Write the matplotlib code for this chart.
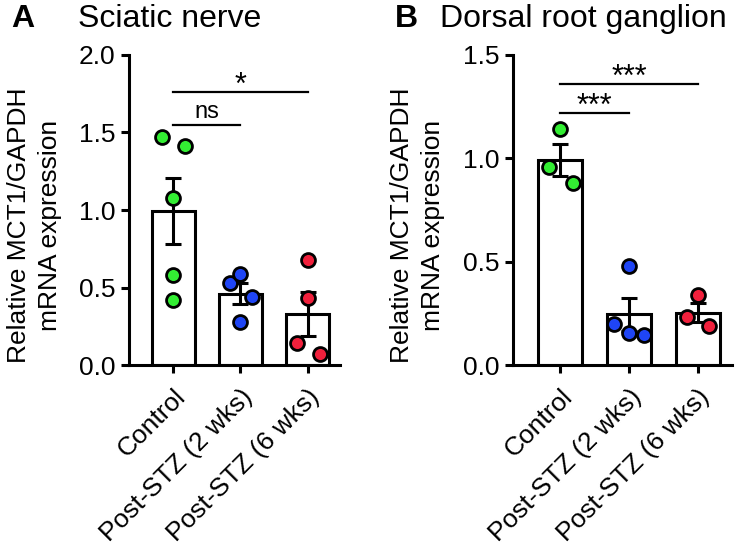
import matplotlib
matplotlib.use("Agg")
import matplotlib.pyplot as plt
import matplotlib.transforms as mtransforms
import numpy as np

plt.rcParams['font.family'] = ['Liberation Sans', 'DejaVu Sans']

groups = ['Control', 'Post-STZ (2 wks)', 'Post-STZ (6 wks)']
colors = ['#33ee33', '#1f45f5', '#f0203c']

# Sciatic nerve, individual points
sn_vals = [[1.47, 1.41, 1.08, 0.58, 0.42],
           [0.53, 0.59, 0.44, 0.28],
           [0.68, 0.43, 0.14, 0.07]]
sn_jit = [[-0.17, 0.17, 0.0, 0.0, 0.0],
          [-0.16, 0.0, 0.18, 0.0],
          [0.0, 0.0, -0.15, 0.18]]

# Dorsal root ganglion, individual points
drg_vals = [[1.14, 0.96, 0.88],
            [0.48, 0.20, 0.155, 0.145],
            [0.34, 0.23, 0.19]]
drg_jit = [[0.0, -0.16, 0.18],
           [0.0, -0.22, 0.0, 0.22],
           [0.0, -0.16, 0.16]]

# significance bars: (start group, end group, y, label)
sn_sig = [(0, 1, 1.55, 'ns'), (0, 2, 1.76, '*')]
drg_sig = [(0, 1, 1.22, '***'), (0, 2, 1.36, '***')]

LW = 2.2

def panel(fig, ax, vals, jit, sig, ymax, yticks, xlim):
    x = np.arange(len(groups))
    means = [np.mean(v) for v in vals]
    sems = [np.std(v, ddof=1) / np.sqrt(len(v)) for v in vals]
    ax.bar(x, means, width=0.64, color='white', edgecolor='black', linewidth=LW, zorder=1)
    ax.errorbar(x, means, yerr=sems, fmt='none', ecolor='black', elinewidth=LW,
                capsize=6, capthick=LW, zorder=2)
    for i, v in enumerate(vals):
        ax.plot(i + np.array(jit[i]), v, 'o', ms=10, mfc=colors[i], mec='black',
                mew=2, zorder=3, clip_on=False)
    for a, b, y, lab in sig:
        ax.plot([a, b], [y, y], color='black', lw=1.6, zorder=3)
        if lab.startswith('*'):
            ax.annotate(lab, xy=((a + b) / 2, y), xytext=(0, -6.4), textcoords='offset points',
                        ha='center', va='bottom', fontsize=22)
        else:
            ax.annotate(lab, xy=((a + b) / 2, y), xytext=(0, 1.2), textcoords='offset points',
                        ha='center', va='bottom', fontsize=17)
    ax.set_ylim(0, ymax)
    ax.set_xlim(*xlim)
    ax.set_yticks(yticks)
    ax.set_yticklabels(['%.1f' % t for t in yticks])
    ax.set_xticks(x)
    ax.set_xticklabels(groups, rotation=45, ha='right', rotation_mode='anchor')
    shift = mtransforms.ScaledTranslation(-4 / 100, 0, fig.dpi_scale_trans)
    for lbl in ax.get_xticklabels():
        lbl.set_transform(lbl.get_transform() + shift)
    for s in ['top', 'right']:
        ax.spines[s].set_visible(False)
    for s in ['left', 'bottom']:
        ax.spines[s].set_linewidth(LW)
    ax.tick_params(axis='both', width=LW, length=6, labelsize=19, pad=4)
    ax.tick_params(axis='x', pad=8)
    ax.set_ylabel('Relative MCT1/GAPDH\nmRNA expression', fontsize=19, linespacing=1.4)

fig = plt.figure(figsize=(7.5, 5.56), dpi=100)
axA = fig.add_axes([0.172, 0.3435, 0.281, 0.5576])
axB = fig.add_axes([0.684, 0.3435, 0.292, 0.5576])

panel(fig, axA, sn_vals, sn_jit, sn_sig, 2.0, [0.0, 0.5, 1.0, 1.5, 2.0], (-0.66, 2.48))
panel(fig, axB, drg_vals, drg_jit, drg_sig, 1.5, [0.0, 0.5, 1.0, 1.5], (-0.69, 2.5))
axA.yaxis.set_label_coords(-0.317, 0.45)
axB.yaxis.set_label_coords(-0.31, 0.45)

fig.text(0.015, 0.965, 'A', fontsize=23, fontweight='bold', va='center')
fig.text(0.104, 0.965, 'Sciatic nerve', fontsize=23, va='center')
fig.text(0.527, 0.965, 'B', fontsize=23, fontweight='bold', va='center')
fig.text(0.587, 0.965, 'Dorsal root ganglion', fontsize=23, va='center')

fig.savefig('out.png', dpi=100)
